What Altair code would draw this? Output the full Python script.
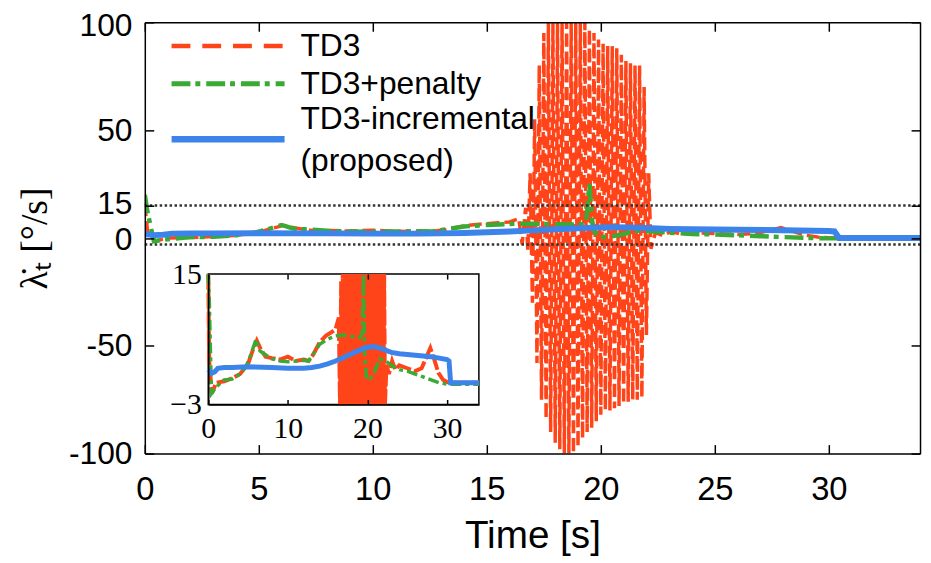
import altair as alt
import pandas as pd

# ---------------- data ----------------
td3_t = [0, 0.12, 0.45, 1.0, 2.0, 3.0, 4.0, 5.0, 5.6, 6.1, 6.6, 7.2, 8.0, 9.0, 10.0, 11.0, 12.0, 12.6,
         13.2, 14.0, 14.8, 15.5, 16.0, 16.4, 16.55,
         16.7, 16.8, 16.9, 17.0, 17.1, 17.2, 17.3, 17.4, 17.5, 17.6, 17.7, 17.8, 17.9, 18.0,
         18.1, 18.2, 18.3, 18.4, 18.5, 18.6, 18.7, 18.8, 18.9, 19.0, 19.1, 19.2, 19.3, 19.4,
         19.5, 19.6, 19.7, 19.8, 19.9, 20.0, 20.1, 20.2, 20.3, 20.4, 20.5, 20.6, 20.7, 20.8,
         20.9, 21.0, 21.1, 21.2, 21.3, 21.4, 21.5, 21.6, 21.7, 21.8, 21.9, 22.0, 22.1, 22.2,
         22.4, 22.7, 23.1, 23.5, 24.0, 25.0, 26.0, 26.8, 27.4, 27.9, 28.4, 28.9, 29.5, 30.0, 30.5, 34.0]
td3_v = [16, 3, -1.5, 0.0, 0.2, 0.6, 1.2, 2.6, 4.5, 5.8, 4.6, 3.6, 3.4, 3.2, 3.6, 3.0, 3.2, 3.0,
         3.9, 5.6, 6.5, 7.0, 7.4, 9.0, -3.0,
         14, -6, 30, -30, 55, -58, 80, -75, 95, -84, 100, -90, 100, -95,
         100, -98, 100, -100, 100, -100, 100, -100, 100, -97, 100, -93, 100, -90,
         97, -88, 95, -85, 92, -82, 90, -80, 89, -80, 89, -79, 88, -78,
         85, -77, 82, -76, 81, -75, 80, -75, 80, -74, 70, -45, 30, -5,
         2.5, 1.2, 3.0, 1.8, 2.4, 2.0, 1.6, 2.0, 3.5, 4.8, 3.2, 1.4, 0.4, 0.1, 0.0, 0.0]

pen_t = [0, 0.12, 0.4, 1.0, 2.0, 3.0, 4.0, 4.8, 5.4, 6.0, 6.5, 7.0, 8.0, 9.0, 10.0, 11.0, 12.0, 12.6,
         13.2, 14.0, 15.0, 16.0, 17.0, 18.0, 19.0, 19.35, 19.5, 19.65, 19.9, 20.3, 20.9, 21.5, 22.3,
         23.0, 24.0, 25.0, 26.0, 27.0, 28.0, 29.0, 30.0, 30.5, 34.0]
pen_v = [20, 12, -1.5, -0.6, 0.4, 0.5, 1.2, 2.4, 4.0, 6.0, 4.4, 4.0, 3.3, 3.0, 2.9, 3.0, 3.1, 3.0,
         4.0, 5.3, 6.0, 6.5, 6.6, 6.4, 6.2, 6.8, 25, 4, 0.5, 0.4, 1.5, 3.3, 3.0,
         2.4, 1.8, 1.6, 1.2, 0.8, 0.4, 0.0, -0.2, -0.2, -0.2]

inc_t = [0, 0.4, 0.8, 1.2, 2, 3, 5, 8, 10, 12, 13, 14, 15, 16, 17, 18, 19, 20, 20.6, 21.2, 22, 23,
         24, 26, 28, 30, 30.25, 30.45, 34]
inc_v = [1.8, 1.3, 1.5, 2.0, 2.1, 2.1, 2.2, 2.1, 2.0, 2.0, 2.1, 2.3, 2.6, 3.0, 3.5, 4.0, 4.5, 4.9,
         5.0, 4.9, 4.6, 4.2, 4.0, 3.8, 3.6, 3.2, 3.0, 0.0, 0.0]

series_names = ["TD3", "TD3+penalty", "TD3-incremental", "(proposed)"]
x_domain = [0, 34]
y_domain = [-100, 100]
x_ticks = [0, 5, 10, 15, 20, 25, 30]
y_ticks = [-100, -50, 0, 15, 50, 100]
box_levels = [-3, 15]          # dotted zoom box
inset_x_ticks = [0, 10, 20, 30]
inset_y_ticks = [-3, 15]

# ---------------- style ----------------
RED = "#FF4419"
GREEN = "#3AAA35"
BLUE = "#3D84EA"
SANS = "Liberation Sans"
SERIF = "Liberation Serif"
W, H = 782, 435

df_td3 = pd.DataFrame({"t": td3_t, "v": td3_v})
df_pen = pd.DataFrame({"t": pen_t, "v": pen_v})
df_inc = pd.DataFrame({"t": inc_t, "v": inc_v})

def xs_main():
    return alt.Scale(domain=x_domain, nice=False, zero=False)

def ys_main():
    return alt.Scale(domain=y_domain, nice=False, zero=False)

x_axis_main = alt.Axis(values=x_ticks, orient="bottom", tickSize={"expr": "-9"}, labelPadding=29,
                       labelFlush=False, labelOverlap=False, labelExpr="datum.value + ''",
                       grid=False, domainColor="black", domainWidth=1.5, tickColor="black",
                       tickWidth=1.5, labelColor="black", labelFont=SANS, labelFontSize=33,
                       title="Time [s]", titleFont=SANS, titleFontSize=39, titleFontWeight="normal",
                       titleColor="black", titleX=W / 2, titleY=83, titleBaseline="middle",
                       titleAlign="center", zindex=1)
y_axis_main = alt.Axis(values=y_ticks, orient="left", tickSize={"expr": "-9"}, labelPadding=22,
                       labelOverlap=False, labelFlush=False, labelExpr="datum.value + ''",
                       labelOffset={"expr": "datum.value == 100 ? 3 : datum.value == 15 ? -2 : datum.value == 0 ? 2 : 0"},
                       grid=False, domainColor="black", domainWidth=1.5, tickColor="black",
                       tickWidth=1.5, labelColor="black", labelFont=SANS, labelFontSize=32,
                       title="λ̇ₜ [°/s]", titleFont=SERIF, titleFontSize=38, titleFontWeight="normal",
                       titleColor="black", titleX=-110, titleY=H / 2, titleAngle=270,
                       titleBaseline="middle", titleAlign="center", zindex=1)

def main_line(df, color, width, dash=None, axes=False):
    kw = dict(color=color, strokeWidth=width, clip=True)
    if dash is not None:
        kw["strokeDash"] = dash
    return alt.Chart(df).mark_line(**kw).encode(
        x=alt.X("t:Q", scale=xs_main(), axis=x_axis_main if axes else None),
        y=alt.Y("v:Q", scale=ys_main(), axis=y_axis_main if axes else None),
    )

# frame: dotted zoom-box lines + mirrored top/right axes
frame_axis = dict(grid=False, domainColor="black", domainWidth=1.5, tickColor="black",
                  tickWidth=1.5, labels=False, title=None, tickSize={"expr": "-9"}, zindex=1)
frame = alt.Chart(pd.DataFrame({"v": box_levels})).mark_rule(
    color="#333333", strokeWidth=2.5, strokeDash=[2.5, 2.5]
).encode(
    x=alt.XDatum(x_domain[0], type="quantitative", scale=xs_main(),
                 axis=alt.Axis(orient="top", values=x_ticks, **frame_axis)),
    x2=alt.X2Datum(x_domain[1]),
    y=alt.Y("v:Q", scale=ys_main(), axis=alt.Axis(orient="right", values=y_ticks, **frame_axis)),
)

# ---------------- inset ----------------
IN_X = [64, 337]
IN_Y = [385.5, 254]

def xs_in():
    return alt.Scale(domain=x_domain, range=IN_X, nice=False, zero=False)

def ys_in():
    return alt.Scale(domain=box_levels, range=IN_Y, nice=False, zero=False, clamp=True)

inset_x_axis = alt.Axis(values=inset_x_ticks, orient="bottom", offset=-(H - IN_Y[0]), grid=False,
                        domainColor="black", domainWidth=1.5, tickColor="black", tickWidth=1.5,
                        tickSize={"expr": "-5"}, labelPadding=14, labelFlush=False,
                        labelOverlap=False,
                        labelFont=SERIF, labelFontSize=30, labelColor="black",
                        title=None, zindex=2)
inset_top_axis = alt.Axis(values=inset_x_ticks, orient="top", offset=-IN_Y[1], grid=False,
                          domain=False, tickColor="black", tickWidth=1.5,
                          tickSize={"expr": "-5"}, labels=False, title=None, zindex=2)
inset_y_axis = alt.Axis(values=inset_y_ticks, orient="left", offset=-IN_X[0], grid=False,
                        domainColor="black", domainWidth=1.5, ticks=False, labelPadding=7,
                        labelOverlap=False, labelFlush=False,
                        labelFont=SERIF, labelFontSize=30, labelColor="black",
                        title=None, zindex=2)

inset_bg = alt.Chart(pd.DataFrame({"x0": [x_domain[0]], "x1": [x_domain[1]],
                                   "y0": [box_levels[0]], "y1": [box_levels[1]]})).mark_rect(
    fill="white", stroke="black", strokeWidth=1.5
).encode(
    x=alt.X("x0:Q", scale=xs_in(), axis=inset_x_axis), x2="x1",
    y=alt.Y("y0:Q", scale=ys_in(), axis=inset_y_axis), y2="y1",
)

def inset_line(df, color, width, dash=None, top_axis=False):
    kw = dict(color=color, strokeWidth=width)
    if dash is not None:
        kw["strokeDash"] = dash
    return alt.Chart(df).mark_line(**kw).encode(
        x=alt.X("t:Q", scale=xs_in(), axis=inset_top_axis if top_axis else None),
        y=alt.Y("v:Q", scale=ys_in(), axis=None),
    )

# ---------------- legend (drawn manually, MATLAB style) ----------------
def leg_rule(name, color, width, y, dash=None):
    kw = dict(color=color, strokeWidth=width)
    if dash is not None:
        kw["strokeDash"] = dash
    return alt.Chart(pd.DataFrame({"s": [name]})).mark_rule(**kw).encode(
        x=alt.value(27), x2=alt.value(141), y=alt.value(y))

def leg_text(name, y):
    return alt.Chart(pd.DataFrame({"s": [name]})).mark_text(
        align="left", baseline="middle", font=SANS, fontSize=32, color="black"
    ).encode(x=alt.value(157), y=alt.value(y), text="s:N")

chart = alt.layer(
    main_line(df_td3, RED, 3.5, [13, 5], axes=True),
    main_line(df_pen, GREEN, 4.5, [19, 5, 5, 6]),
    main_line(df_inc, BLUE, 6),
    frame,
    inset_bg,
    inset_line(df_td3, RED, 4, [16, 3], top_axis=True),
    inset_line(df_pen, GREEN, 3.5, [11, 4, 4, 4]),
    inset_line(df_inc, BLUE, 5),
    leg_rule(series_names[0], RED, 4.5, 24, [19, 12]),
    leg_rule(series_names[1], GREEN, 5, 62, [19, 5, 5, 6]),
    leg_rule(series_names[2], BLUE, 6.5, 118),
    leg_text(series_names[0], 24),
    leg_text(series_names[1], 62),
    leg_text(series_names[2], 98),
    leg_text(series_names[3], 140),
).resolve_scale(
    x="independent", y="independent"
).properties(
    width=W, height=H,
    autosize=alt.AutoSizeParams(type="none"),
    padding={"left": 138, "top": 12, "right": 3, "bottom": 110},
    background="white",
).configure_view(strokeWidth=0)

chart.save("out.html", embed_options={"renderer": "svg", "actions": False})
